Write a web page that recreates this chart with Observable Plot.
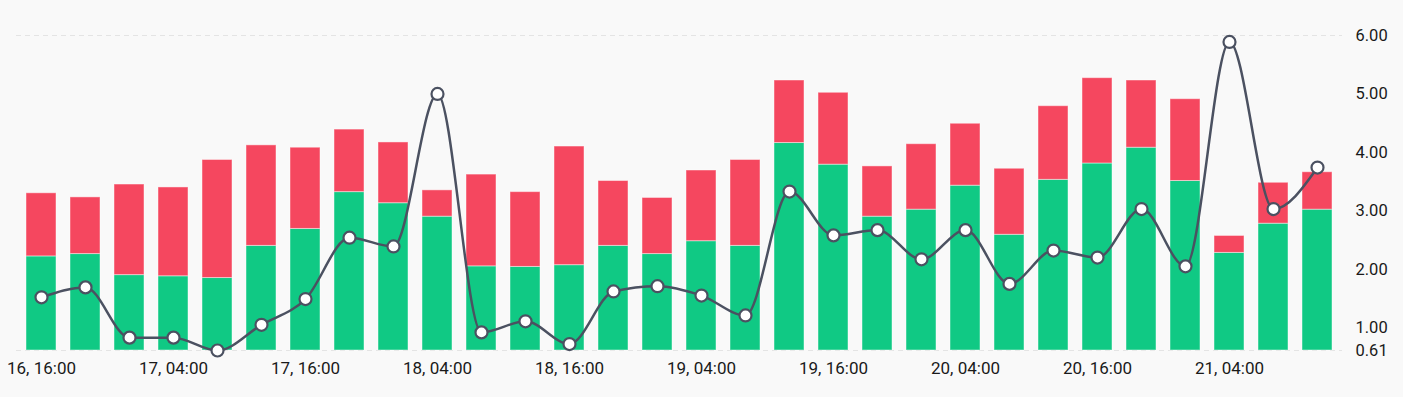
<!DOCTYPE html>
<html>
<head>
<meta charset="utf-8">
<script src="https://cdn.jsdelivr.net/npm/d3@7"></script>
<script src="https://cdn.jsdelivr.net/npm/@observablehq/plot@0.6"></script>
<style>
  html, body { margin: 0; padding: 0; background: #f9f9f9; }
  #chart svg { display: block; }
</style>
</head>
<body>
<div id="chart"></div>
<script>
const times = [
  "16, 16:00","16, 20:00","17, 00:00","17, 04:00","17, 08:00","17, 12:00",
  "17, 16:00","17, 20:00","18, 00:00","18, 04:00","18, 08:00","18, 12:00",
  "18, 16:00","18, 20:00","19, 00:00","19, 04:00","19, 08:00","19, 12:00",
  "19, 16:00","19, 20:00","20, 00:00","20, 04:00","20, 08:00","20, 12:00",
  "20, 16:00","20, 20:00","21, 00:00","21, 04:00","21, 08:00","21, 12:00"
];
// top of the green segment
const greenTop = [2.22,2.26,1.90,1.88,1.85,2.40,2.69,3.32,3.13,2.90,
                  2.05,2.04,2.07,2.40,2.26,2.48,2.40,4.16,3.79,2.90,
                  3.02,3.43,2.59,3.53,3.81,4.08,3.51,2.28,2.78,3.02];
// top of the red segment (total bar height)
const redTop = [3.30,3.23,3.45,3.40,3.87,4.12,4.08,4.39,4.17,3.35,
                3.62,3.32,4.10,3.51,3.22,3.69,3.87,5.23,5.02,3.76,
                4.14,4.49,3.72,4.79,5.27,5.23,4.91,2.57,3.48,3.66];
// line series
const lineValues = [1.52,1.69,0.83,0.83,0.61,1.05,1.49,2.54,2.39,5.00,
                    0.92,1.11,0.72,1.62,1.71,1.55,1.21,3.33,2.58,2.67,
                    2.17,2.67,1.75,2.32,2.20,3.03,2.05,5.89,3.03,3.74];
const yTicks = [0.61, 1, 2, 3, 4, 5, 6];
const xTickLabels = times.filter((d, i) => i % 3 === 0);

const yMin = yTicks[0], yMax = yTicks[yTicks.length - 1];
const rows = times.map((t, i) => ({t, g: greenTop[i], r: redTop[i], v: lineValues[i]}));

const GREEN = "#10c984", RED = "#f5475f", LINE = "#4b5161";

const chart = Plot.plot({
  width: 1403,
  height: 397,
  marginLeft: 16,
  marginRight: 61,
  marginTop: 35,
  marginBottom: 47,
  style: {background: "#f9f9f9", fontFamily: "Roboto, 'DejaVu Sans', sans-serif", fontSize: "17px", color: "#1a1a1a"},
  x: {type: "band", domain: times, paddingInner: 0.32, paddingOuter: 0.16, label: null},
  y: {domain: [yMin, yMax], label: null},
  marks: [
    Plot.ruleY([yMin, yMax], {stroke: "#e4e4e4", strokeDasharray: "5,4", strokeWidth: 1}),
    Plot.rectY(rows, {x: "t", y1: yMin, y2: "g", fill: GREEN, stroke: "#ffffff", strokeOpacity: 0.45, strokeWidth: 1}),
    Plot.rectY(rows, {x: "t", y1: "g", y2: "r", fill: RED, stroke: "#ffffff", strokeOpacity: 0.45, strokeWidth: 1}),
    Plot.line(rows, {x: "t", y: "v", curve: "monotone-x", stroke: LINE, strokeWidth: 2.5}),
    Plot.dot(rows, {x: "t", y: "v", r: 6, fill: "#ffffff", stroke: LINE, strokeWidth: 2.2}),
    Plot.axisX({ticks: xTickLabels, tickSize: 0, tickPadding: 11, fontSize: 17, fill: "#1a1a1a"}),
    Plot.axisY({ticks: yTicks, anchor: "right", tickSize: 0, tickPadding: 13, textAnchor: "start", tickFormat: d3.format(".2f"), fontSize: 16.5, fill: "#1a1a1a"})
  ]
});
document.getElementById("chart").appendChild(chart);
</script>
</body>
</html>
